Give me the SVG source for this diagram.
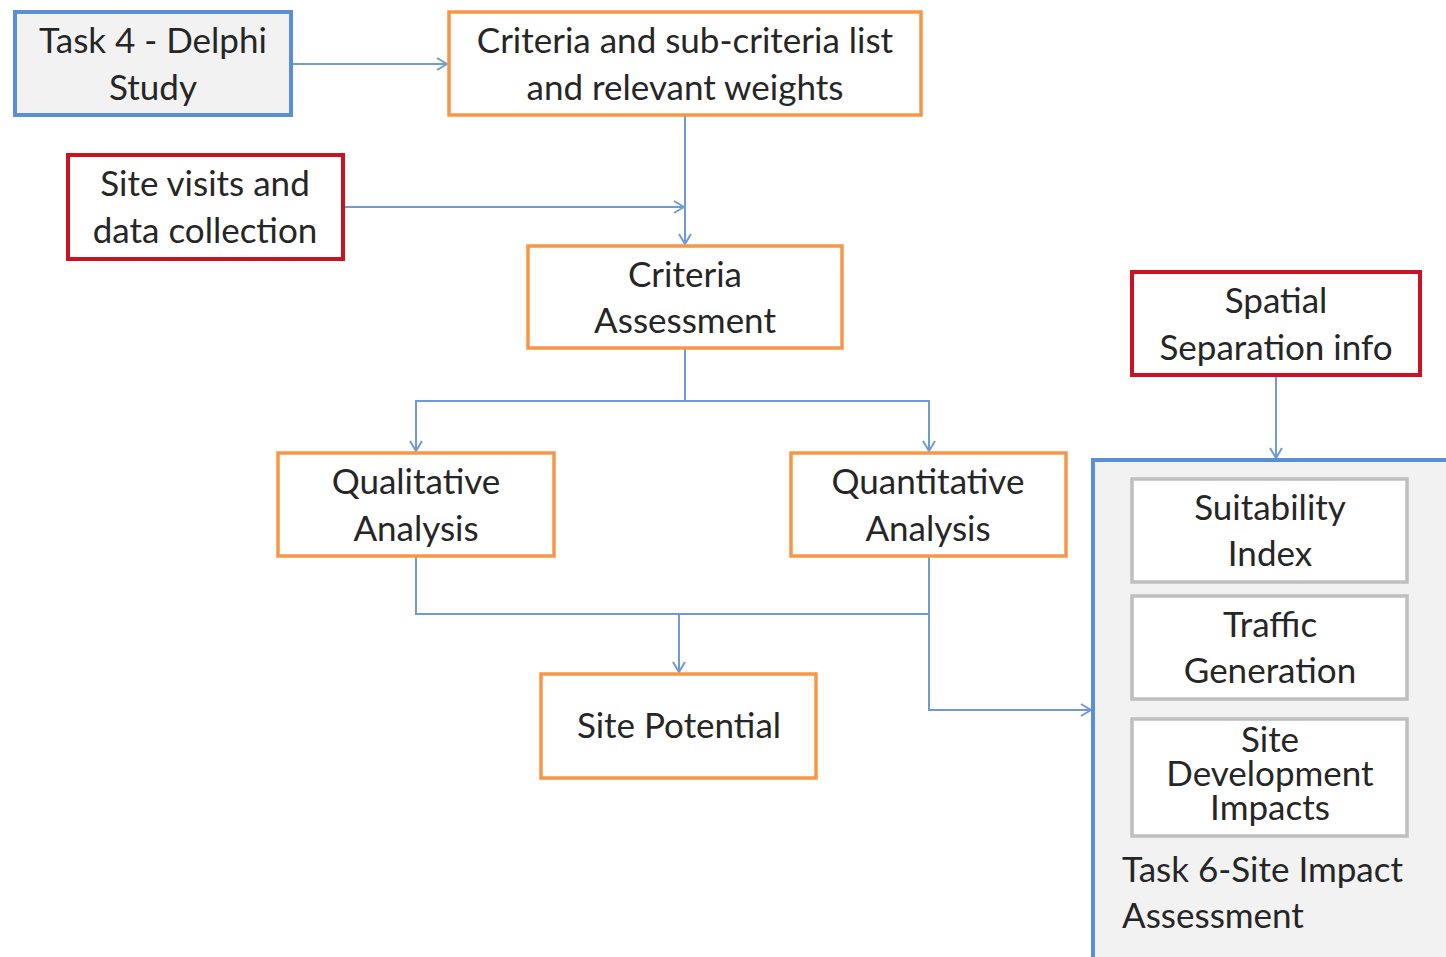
<svg xmlns="http://www.w3.org/2000/svg" width="1446" height="957" viewBox="0 0 1446 957">
<defs>
<style>
.t{font-family:Lato,"Open Sans","Liberation Sans",sans-serif;font-size:35px;fill:#262626;text-anchor:middle}
.tl{text-anchor:start}
.or{fill:#fff;stroke:#f79646;stroke-width:3.5}
.rd{fill:#fff;stroke:#cc1122;stroke-width:4}
.bl{fill:#f2f2f2;stroke:#5a8fd6;stroke-width:4}
.gr{fill:#fff;stroke:#bfbfbf;stroke-width:3.5}
.c{fill:none;stroke:#6e9bd6;stroke-width:2}
</style>
<marker id="a" viewBox="0 0 12 14" refX="11" refY="7" markerWidth="12" markerHeight="14" markerUnits="userSpaceOnUse" orient="auto">
<path d="M1,1 L11,7 L1,13" fill="none" stroke="#6e9bd6" stroke-width="2"/>
</marker>
</defs>
<rect width="1446" height="957" fill="#fff"/>
<g id="connectors">
<path class="c" d="M292,64 H447" marker-end="url(#a)"/>
<path class="c" d="M685,116 V244" marker-end="url(#a)"/>
<path class="c" d="M344,207 H684" marker-end="url(#a)"/>
<path class="c" d="M685,349 V401 H416 V451" marker-end="url(#a)"/>
<path class="c" d="M685,401 H929 V451" marker-end="url(#a)"/>
<path class="c" d="M416,557 V614 H929"/>
<path class="c" d="M679,614 V672" marker-end="url(#a)"/>
<path class="c" d="M929,557 V710 H1091" marker-end="url(#a)"/>
<path class="c" d="M1276,376 V458" marker-end="url(#a)"/>
</g>
<g id="task4">
<rect class="bl" x="15" y="12" width="276" height="103"/>
<text class="t" x="153" y="53">Task 4 - Delphi</text>
<text class="t" x="153" y="100">Study</text>
</g>
<g id="criteria-list">
<rect class="or" x="449" y="12" width="472" height="103"/>
<text class="t" x="685" y="53">Criteria and sub-criteria list</text>
<text class="t" x="685" y="100">and relevant weights</text>
</g>
<g id="site-visits">
<rect class="rd" x="68" y="155" width="275" height="104"/>
<text class="t" x="205" y="196">Site visits and</text>
<text class="t" x="205" y="243">data collection</text>
</g>
<g id="criteria-assessment">
<rect class="or" x="528" y="246" width="314" height="102"/>
<text class="t" x="685" y="287">Criteria</text>
<text class="t" x="685" y="333">Assessment</text>
</g>
<g id="qualitative">
<rect class="or" x="278" y="453" width="276" height="103"/>
<text class="t" x="416" y="494">Qualitative</text>
<text class="t" x="416" y="541">Analysis</text>
</g>
<g id="quantitative">
<rect class="or" x="791" y="453" width="275" height="103"/>
<text class="t" x="928" y="494">Quantitative</text>
<text class="t" x="928" y="541">Analysis</text>
</g>
<g id="site-potential">
<rect class="or" x="541" y="674" width="275" height="104"/>
<text class="t" x="679" y="738">Site Potential</text>
</g>
<g id="spatial">
<rect class="rd" x="1132" y="272" width="288" height="103"/>
<text class="t" x="1276" y="313">Spatial</text>
<text class="t" x="1276" y="360">Separation info</text>
</g>
<g id="task6">
<path d="M1093,960 V460 H1450 V960 Z" fill="#f2f2f2"/>
<path d="M1093,960 V460 H1450" fill="none" stroke="#5a8fd6" stroke-width="4"/>
<text class="t tl" x="1122" y="882">Task 6-Site Impact</text>
<text class="t tl" x="1122" y="928">Assessment</text>
</g>
<g id="suitability">
<rect class="gr" x="1132" y="479" width="275" height="103"/>
<text class="t" x="1270" y="520">Suitability</text>
<text class="t" x="1270" y="566">Index</text>
</g>
<g id="traffic">
<rect class="gr" x="1132" y="596" width="275" height="103"/>
<text class="t" x="1270" y="637">Traffic</text>
<text class="t" x="1270" y="683">Generation</text>
</g>
<g id="site-development">
<rect class="gr" x="1132" y="719" width="275" height="117"/>
<text class="t" x="1270" y="752">Site</text>
<text class="t" x="1270" y="786">Development</text>
<text class="t" x="1270" y="820">Impacts</text>
</g>
</svg>
